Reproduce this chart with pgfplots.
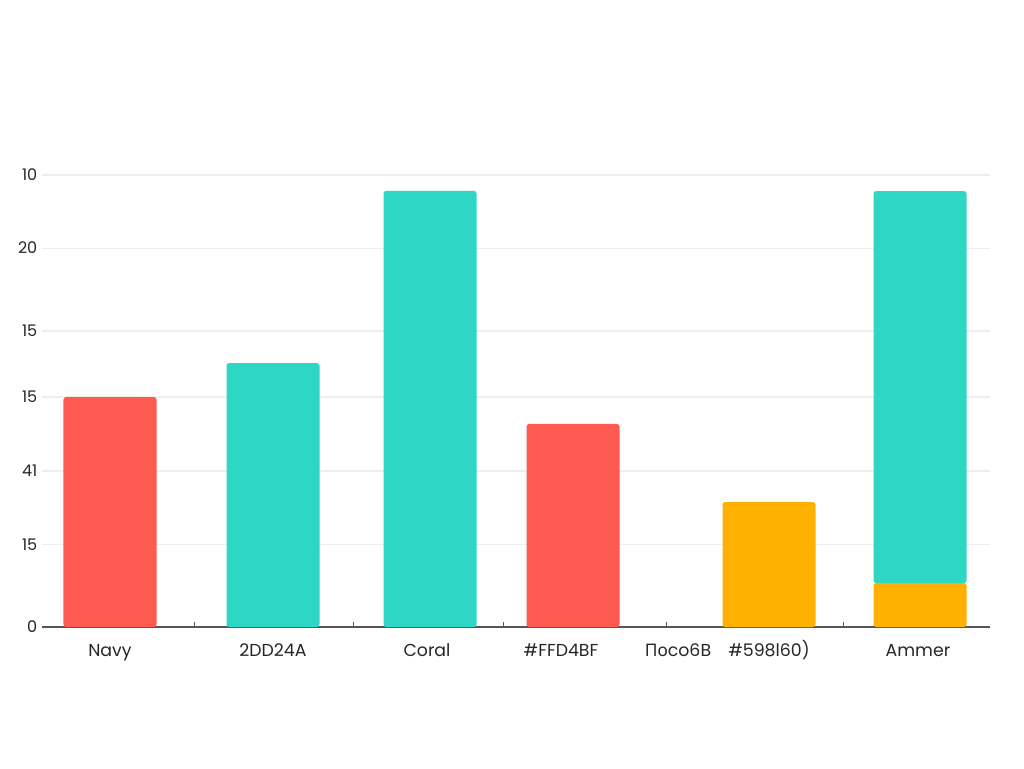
\documentclass[border=0pt]{standalone}
\usepackage{pgfplots}
\pgfplotsset{compat=1.18}
\usepackage{fontspec}
\setmainfont{Poppins}
\newfontfamily\cyr{Noto Sans}
\definecolor{barred}{HTML}{FF5A50}
\definecolor{barteal}{HTML}{2ED6C4}
\definecolor{baramber}{HTML}{FFB000}
\definecolor{gridgray}{HTML}{EEEEEE}
\definecolor{axisgray}{HTML}{555555}
\begin{document}
\begin{tikzpicture}
% page = 1024x768 px at 0.75pt per px, axis corner at (42px, 627px)
\useasboundingbox (-31.5pt,-105.75pt) rectangle (736.5pt,470.25pt);
\begin{axis}[
    x=0.75pt, y=13.56pt,
    xmin=42, xmax=990,
    ymin=0, ymax=25,
    axis x line*=bottom,
    axis y line*=left,
    y axis line style={draw=none},
    x axis line style={axisgray, line width=0.9pt, -},
    ytick={0,4.54,8.63,12.72,16.37,20.96,25},
    yticklabels={0,15,41,15,15,20,10},
    major y tick style={draw=none},
    ymajorgrids=true,
    grid style={gridgray, line width=0.8pt},
    % small separator marks on the baseline
    xtick={194,353.5,503.5,666,843},
    xticklabels={},
    xtick align=inside,
    major x tick style={axisgray, line width=0.6pt},
    major tick length=4pt,
    % category names
    extra x ticks={110,273,427,561,678,769,918},
    extra x tick labels={Navy,2DD24A,Coral,\#FFD4BF,{\cyr По}co6B,\#598l60),Ammer},
    extra x tick style={major tick length=0pt, grid=none},
    xticklabel style={font=\fontsize{13}{15}\selectfont, color=black!85,
        text height=1.6ex, text depth=0.4ex, yshift=-10pt},
    yticklabel style={font=\fontsize{12}{14}\selectfont, color=black!85},
    ybar stacked,
    bar width=93,
    clip=false,
]
% every series lists all bar positions so that stacking lines up
\addplot[fill=barred, draw=none, rounded corners=2pt] coordinates
    {(110,12.72) (273,0) (430,0) (573,11.23) (769,0) (920,0)};
\addplot[fill=barteal, draw=none, rounded corners=2pt] coordinates
    {(110,0) (273,14.60) (430,24.12) (573,0) (769,0) (920,0)};
\addplot[fill=baramber, draw=none, rounded corners=2pt] coordinates
    {(110,0) (273,0) (430,0) (573,0) (769,6.91) (920,2.43)};
\addplot[fill=barteal, draw=none, rounded corners=2pt] coordinates
    {(110,0) (273,0) (430,0) (573,0) (769,0) (920,21.68)};
\end{axis}
\end{tikzpicture}
\end{document}
